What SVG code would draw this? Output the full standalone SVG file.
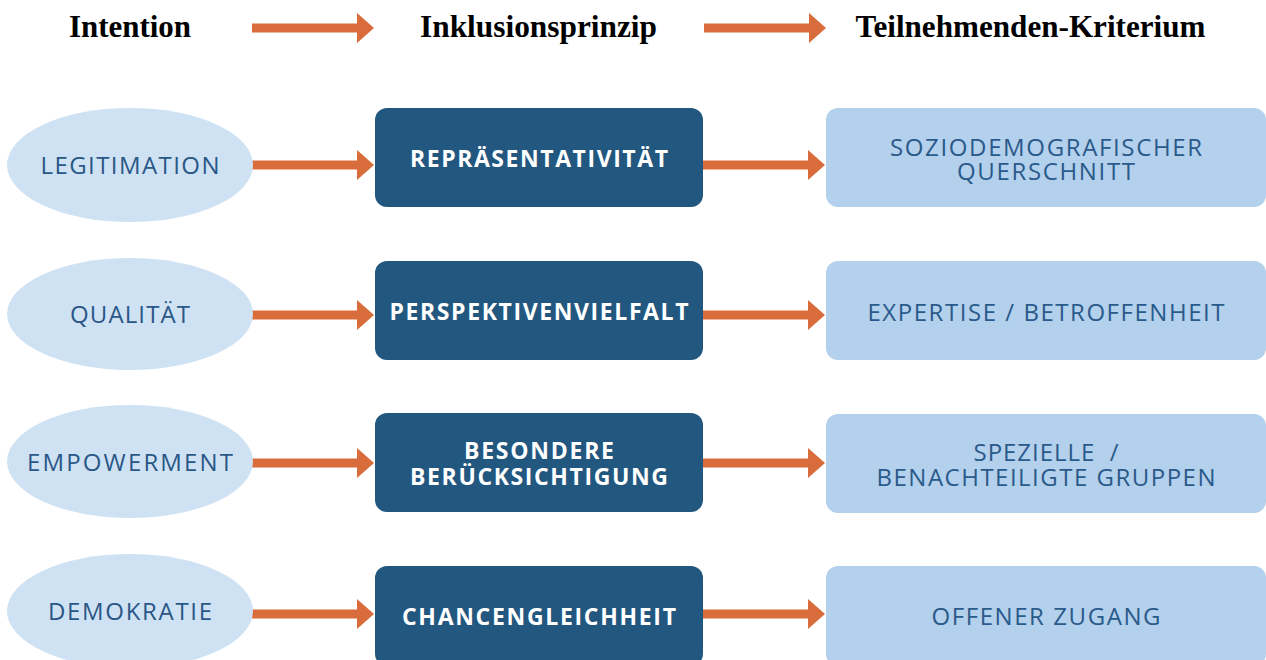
<svg xmlns="http://www.w3.org/2000/svg" xmlns:xlink="http://www.w3.org/1999/xlink" width="1266" height="660" viewBox="0 0 1266 660">
  <style>
    .head { font-family: "Liberation Serif", "DejaVu Serif", serif; font-weight: bold; font-size: 32px; fill: #000; }
    .intent { fill: #cfe2f4; }
    .intent-t { font-family: "Open Sans", "Liberation Sans", sans-serif; font-size: 24px; fill: #2a5786; }
    .prin { fill: #22577f; }
    .prin-t { font-family: "Open Sans", "Liberation Sans", sans-serif; font-weight: bold; font-size: 23px; fill: #ffffff; }
    .crit { fill: #b3d0ec; }
    .crit-t { font-family: "Open Sans", "Liberation Sans", sans-serif; font-size: 24px; fill: #2a5a8a; }
    .arrow { fill: #d96c3b; }
  </style>
  <defs>
    <!-- block arrow, 122 long, pointing right, centred on y=0 -->
    <path id="arr" class="arrow" d="M0,-4.5 H105 V-15 L122,0 L105,15 V4.5 H0 Z"/>
  </defs>

  <rect width="1266" height="660" fill="#ffffff"/>

  <!-- column headings -->
  <g id="headings">
    <text class="head" x="130" y="37" text-anchor="middle" textLength="122" lengthAdjust="spacingAndGlyphs">Intention</text>
    <text class="head" x="538.5" y="37" text-anchor="middle" textLength="237" lengthAdjust="spacingAndGlyphs">Inklusionsprinzip</text>
    <text class="head" x="1030.5" y="37" text-anchor="middle" textLength="350" lengthAdjust="spacingAndGlyphs">Teilnehmenden-Kriterium</text>
  </g>

  <!-- connectors -->
  <g id="connectors">
    <use xlink:href="#arr" x="252" y="28"/>
    <use xlink:href="#arr" x="704" y="28"/>
    <use xlink:href="#arr" x="252" y="165"/>
    <use xlink:href="#arr" x="703" y="165"/>
    <use xlink:href="#arr" x="252" y="315"/>
    <use xlink:href="#arr" x="703" y="315"/>
    <use xlink:href="#arr" x="252" y="463"/>
    <use xlink:href="#arr" x="703" y="463"/>
    <use xlink:href="#arr" x="252" y="614"/>
    <use xlink:href="#arr" x="703" y="614"/>
  </g>

  <!-- intentions -->
  <g id="intent-legitimation">
    <ellipse class="intent" cx="130" cy="165" rx="123" ry="57"/>
    <text class="intent-t" x="130" y="174" text-anchor="middle" textLength="179">LEGITIMATION</text>
  </g>
  <g id="intent-qualitaet">
    <ellipse class="intent" cx="130" cy="314" rx="123" ry="56"/>
    <text class="intent-t" x="130" y="323" text-anchor="middle" textLength="120">QUALITÄT</text>
  </g>
  <g id="intent-empowerment">
    <ellipse class="intent" cx="130" cy="461.5" rx="123" ry="56.5"/>
    <text class="intent-t" x="130" y="471" text-anchor="middle" textLength="206">EMPOWERMENT</text>
  </g>
  <g id="intent-demokratie">
    <ellipse class="intent" cx="130" cy="611" rx="123" ry="57"/>
    <text class="intent-t" x="130" y="620" text-anchor="middle" textLength="164">DEMOKRATIE</text>
  </g>

  <!-- inclusion principles -->
  <g id="prin-repraesentativitaet">
    <rect class="prin" x="375" y="108" width="328" height="99" rx="12"/>
    <text class="prin-t" x="539" y="167" text-anchor="middle" textLength="258">REPRÄSENTATIVITÄT</text>
  </g>
  <g id="prin-perspektivenvielfalt">
    <rect class="prin" x="375" y="261" width="328" height="99" rx="12"/>
    <text class="prin-t" x="539" y="320" text-anchor="middle" textLength="299">PERSPEKTIVENVIELFALT</text>
  </g>
  <g id="prin-beruecksichtigung">
    <rect class="prin" x="375" y="413" width="328" height="99" rx="12"/>
    <text class="prin-t" x="539" y="459" text-anchor="middle" textLength="150">BESONDERE</text>
    <text class="prin-t" x="539" y="485" text-anchor="middle" textLength="258">BERÜCKSICHTIGUNG</text>
  </g>
  <g id="prin-chancengleichheit">
    <rect class="prin" x="375" y="566" width="328" height="100" rx="12"/>
    <text class="prin-t" x="539" y="625" text-anchor="middle" textLength="274">CHANCENGLEICHHEIT</text>
  </g>

  <!-- participant criteria -->
  <g id="crit-querschnitt">
    <rect class="crit" x="826" y="108" width="440" height="99" rx="12"/>
    <text class="crit-t" x="1046" y="156" text-anchor="middle" textLength="312">SOZIODEMOGRAFISCHER</text>
    <text class="crit-t" x="1046" y="180" text-anchor="middle" textLength="178">QUERSCHNITT</text>
  </g>
  <g id="crit-expertise">
    <rect class="crit" x="826" y="261" width="440" height="99" rx="12"/>
    <text class="crit-t" x="1046" y="321" text-anchor="middle" textLength="357">EXPERTISE / BETROFFENHEIT</text>
  </g>
  <g id="crit-gruppen">
    <rect class="crit" x="826" y="414" width="440" height="99" rx="12"/>
    <text class="crit-t" x="1046" y="461" text-anchor="middle" textLength="145" xml:space="preserve">SPEZIELLE  /</text>
    <text class="crit-t" x="1046" y="486" text-anchor="middle" textLength="339">BENACHTEILIGTE GRUPPEN</text>
  </g>
  <g id="crit-zugang">
    <rect class="crit" x="826" y="566" width="440" height="100" rx="12"/>
    <text class="crit-t" x="1046" y="625" text-anchor="middle" textLength="229">OFFENER ZUGANG</text>
  </g>
</svg>
